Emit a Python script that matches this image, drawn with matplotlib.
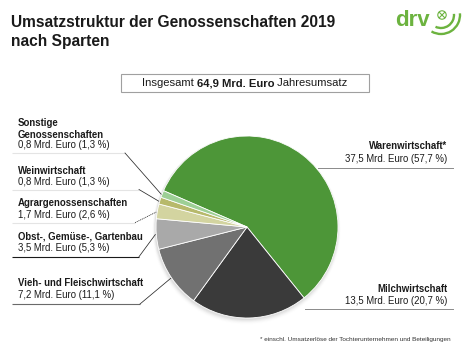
#!/usr/bin/env python3
"""Umsatzstruktur der Genossenschaften 2019 nach Sparten (pie chart)."""

import matplotlib
matplotlib.use("Agg")
import matplotlib.pyplot as plt
import numpy as np
from matplotlib.patches import Arc, Circle, Rectangle

# --- data (clockwise from the big green slice) ---
sparten = [
    "Warenwirtschaft*",
    "Milchwirtschaft",
    "Vieh- und Fleischwirtschaft",
    "Obst-, Gemüse-, Gartenbau",
    "Agrargenossenschaften",
    "Weinwirtschaft",
    "Sonstige\nGenossenschaften",
]
umsatz_mrd = [37.5, 13.5, 7.2, 3.5, 1.7, 0.8, 0.8]
anteil_pct = [57.7, 20.7, 11.1, 5.3, 2.6, 1.3, 1.3]
farben = ["#4d9638", "#3a3a3a", "#717171", "#a9a9a9", "#d3d4a0", "#b7b96b", "#9dcf95"]
gesamt = "64,9"

W, H = 472, 357
FONT = "Liberation Sans"
plt.rcParams["font.family"] = [FONT, "DejaVu Sans"]


def fmt(v):
    return f"{v:.1f}".replace(".", ",")


def py(y):
    # pixel row (top-down) -> data y (bottom-up)
    return H - y


fig = plt.figure(figsize=(W / 100, H / 100), dpi=100)
ax = fig.add_axes([0, 0, 1, 1])
ax.set_xlim(0, W)
ax.set_ylim(0, H)
ax.axis("off")
renderer = fig.canvas.get_renderer()

# title
ax.text(11, py(26.7), "Umsatzstruktur der Genossenschaften 2019", fontsize=11.2,
        fontweight="bold", color="#1a1a1a", va="baseline")
ax.text(11, py(45.7), "nach Sparten", fontsize=11.2, fontweight="bold",
        color="#1a1a1a", va="baseline")

# logo
logo_green = "#6cb33f"
ax.text(395, py(26.5), "drv", fontsize=16, fontweight="bold", color=logo_green,
        va="baseline", ha="left")
ax.add_patch(Circle((442, py(15)), 4.2, fill=False, ec=logo_green, lw=0.8))
ax.plot([439.3, 444.7], [py(12.3), py(17.7)], color=logo_green, lw=0.8)
ax.plot([439.3, 444.7], [py(17.7), py(12.3)], color=logo_green, lw=0.8)
ax.add_patch(Arc((441, py(15)), 38, 38, theta1=-120, theta2=5, ec=logo_green, lw=1.7))
ax.add_patch(Arc((441, py(15)), 26, 26, theta1=-115, theta2=5, ec=logo_green, lw=1.7))

# total box
ax.add_patch(Rectangle((121, py(92)), 248, 18, fill=False, ec="#a0a0a0", lw=0.8))
parts = [("Insgesamt ", "normal"), (f"{gesamt} Mrd. Euro", "bold"), (" Jahresumsatz", "normal")]
box_fs = 8.1
widths = []
for s, wgt in parts:
    t = ax.text(0, 0, s, fontsize=box_fs, fontweight=wgt)
    widths.append(t.get_window_extent(renderer).width)
    t.remove()
x = 244.5 - sum(widths) / 2
for (s, wgt), w in zip(parts, widths):
    ax.text(x, py(86.3), s, fontsize=box_fs, fontweight=wgt, color="#1a1a1a",
            va="baseline", ha="left")
    x += w

# pie
cx, cy, r = 247, py(227), 91
start = 156.5
for k, a in enumerate(np.linspace(0.35, 0.05, 5)):
    ax.add_patch(Circle((cx - 0.5, cy - 1.2 - k * 0.5), r + 0.8 + k * 0.6,
                        color="#808080", alpha=a * 0.25, lw=0))
ax.pie(umsatz_mrd, colors=farben, startangle=start, counterclock=False,
       center=(cx, cy), radius=r, frame=True,
       wedgeprops=dict(edgecolor="white", linewidth=0.6))
ax.set_xlim(0, W)
ax.set_ylim(0, H)
ax.set_aspect("equal")
ax.axis("off")

# mid angles of wedges
fr = np.array(anteil_pct) / np.sum(anteil_pct)
cum = np.concatenate([[0], np.cumsum(fr)])
mid = np.radians(start - 360 * (cum[:-1] + cum[1:]) / 2)
edge = [(cx + r * np.cos(m), cy + r * np.sin(m)) for m in mid]

label_col = "#1a1a1a"
fs = 6.9

# left labels: (index, baselines of lines, separator y, separator end x, sep colour, leader style)
left = [
    (6, [126, 137.5, 148.5], 153, 125, "#e4e4e4", "-"),
    (5, [174, 185.2], 189.5, 139, "#e4e4e4", "-"),
    (4, [206, 217.5], 222.7, 135, "#e4e4e4", (0, (1.5, 1))),
    (3, [239.5, 251], 256.7, 139, "#1a1a1a", "-"),
    (2, [286.5, 298.2], 304, 140, "#6a6a6a", "-"),
]
for idx, bases, sep_y, sep_x, sep_c, ls in left:
    titel = sparten[idx].split("\n")
    for line, b in zip(titel, bases):
        ax.text(18, py(b), line, fontsize=fs, fontweight="bold", color=label_col,
                va="baseline")
    ax.text(18, py(bases[-1]),
            f"{fmt(umsatz_mrd[idx])} Mrd. Euro ({fmt(anteil_pct[idx])} %)",
            fontsize=fs, color=label_col, va="baseline")
    ax.plot([12, sep_x], [py(sep_y), py(sep_y)], color=sep_c, lw=0.8,
            solid_capstyle="butt")
    ex, ey = edge[idx]
    ax.plot([sep_x, ex - 1], [py(sep_y), ey], color="#2a2a2a", lw=0.55, ls=ls)

# right labels
right = [
    (0, [149.3, 161.7], 168, 318),
    (1, [291.7, 304], 309, 305),
]
for idx, bases, sep_y, x0 in right:
    ax.text(447, py(bases[0]), sparten[idx], fontsize=fs, fontweight="bold",
            color=label_col, va="baseline", ha="right")
    ax.text(447, py(bases[1]),
            f"{fmt(umsatz_mrd[idx])} Mrd. Euro ({fmt(anteil_pct[idx])} %)",
            fontsize=fs, color=label_col, va="baseline", ha="right")
    ax.plot([x0, 453], [py(sep_y), py(sep_y)], color="#8a8a8a", lw=0.7)

# footnote
ax.text(451, py(341), "* einschl. Umsatzerlöse der Tochterunternehmen und Beteiligungen",
        fontsize=4.6, color="#333333", ha="right", va="baseline")

fig.savefig("out.png", dpi=100)
